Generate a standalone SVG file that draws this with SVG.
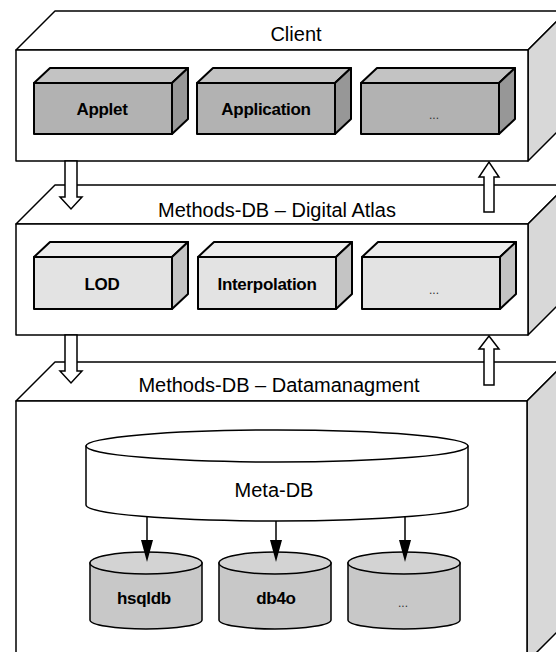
<svg xmlns="http://www.w3.org/2000/svg" width="556" height="652" viewBox="0 0 556 652">
<style>
.o{fill:#fff;stroke:#000;stroke-width:1.5;stroke-linejoin:round}
.os{fill:#d8d8d8;stroke:#000;stroke-width:1.5;stroke-linejoin:round}
.b{stroke:#000;stroke-width:2;stroke-linejoin:round}
.cf{fill:#b2b2b2}.ct{fill:#c3c3c3}.cs{fill:#979797}
.af{fill:#e3e3e3}.at{fill:#ececec}.as{fill:#c4c4c4}
.db{fill:#c8c8c8;stroke:#000;stroke-width:1.5}
.dbt{fill:#d3d3d3;stroke:#000;stroke-width:1.5}
.ar{fill:#fff;stroke:#000;stroke-width:1.5;stroke-linejoin:miter}
.ln{stroke:#000;stroke-width:1.5;fill:none}
.hd{fill:#000}
.t{font-family:"Liberation Sans",Arial,sans-serif;font-size:20px;text-anchor:middle;fill:#000}
.tb{font-family:"Liberation Sans",Arial,sans-serif;font-size:17px;font-weight:bold;text-anchor:middle;fill:#000;letter-spacing:-0.3px}
.td{font-family:"Liberation Sans",Arial,sans-serif;font-size:12px;text-anchor:middle;fill:#333}
</style>
<rect width="556" height="652" fill="#fff"/>

<g id="client">
  <polygon class="o" points="16,50 55,11 567,11 528,50"/>
  <polygon class="os" points="528,50 567,11 567,122 528,161"/>
  <rect class="o" x="16" y="50" width="512" height="111"/>
  <text class="t" x="296" y="41">Client</text>
</g>
<g id="applet">
  <polygon class="b ct" points="34,83 50,68 188,68 172,83"/>
  <polygon class="b cs" points="172,83 188,68 188,119 172,134"/>
  <rect class="b cf" x="34" y="83" width="138" height="51"/>
  <text class="tb" x="102" y="115">Applet</text>
</g>
<g id="application">
  <polygon class="b ct" points="197,83 213,68 351,68 335,83"/>
  <polygon class="b cs" points="335,83 351,68 351,119 335,134"/>
  <rect class="b cf" x="197" y="83" width="138" height="51"/>
  <text class="tb" x="266" y="115">Application</text>
</g>
<g id="client-more">
  <polygon class="b ct" points="361,83 377,68 515,68 499,83"/>
  <polygon class="b cs" points="499,83 515,68 515,119 499,134"/>
  <rect class="b cf" x="361" y="83" width="138" height="51"/>
  <text class="td" x="434" y="119">...</text>
</g>

<g id="atlas">
  <polygon class="o" points="16,224 55,185 567,185 528,224"/>
  <polygon class="os" points="528,224 567,185 567,296 528,335"/>
  <rect class="o" x="16" y="224" width="512" height="111"/>
  <text class="t" x="277" y="217">Methods-DB – Digital Atlas</text>
</g>
<g id="lod">
  <polygon class="b at" points="34,257 50,242 188,242 172,257"/>
  <polygon class="b as" points="172,257 188,242 188,294 172,309"/>
  <rect class="b af" x="34" y="257" width="138" height="52"/>
  <text class="tb" x="102" y="290">LOD</text>
</g>
<g id="interpolation">
  <polygon class="b at" points="198,257 214,242 352,242 336,257"/>
  <polygon class="b as" points="336,257 352,242 352,294 336,309"/>
  <rect class="b af" x="198" y="257" width="138" height="52"/>
  <text class="tb" x="267" y="290">Interpolation</text>
</g>
<g id="atlas-more">
  <polygon class="b at" points="362,257 378,242 516,242 500,257"/>
  <polygon class="b as" points="500,257 516,242 516,294 500,309"/>
  <rect class="b af" x="362" y="257" width="138" height="52"/>
  <text class="td" x="434" y="294">...</text>
</g>

<g id="datamanagment">
  <polygon class="o" points="16,401 55,362 566,362 527,401"/>
  <polygon class="os" points="527,401 566,362 566,623 527,662"/>
  <rect class="o" x="16" y="401" width="511" height="261"/>
  <text class="t" x="279" y="392">Methods-DB – Datamanagment</text>
</g>
<g id="meta-db">
  <path class="o" d="M86,446 V505 A191,16 0 0 0 468,505 V446 Z"/>
  <ellipse class="o" cx="277" cy="446" rx="191" ry="16"/>
  <text class="t" x="274" y="497">Meta-DB</text>
</g>
<g id="hsqldb">
  <path class="db" d="M90,563 V620 A56,9 0 0 0 202,620 V563 Z"/>
  <ellipse class="dbt" cx="146" cy="563" rx="56" ry="11"/>
  <text class="tb" x="144" y="604">hsqldb</text>
</g>
<g id="db4o">
  <path class="db" d="M219,563 V620 A56,9 0 0 0 331,620 V563 Z"/>
  <ellipse class="dbt" cx="275" cy="563" rx="56" ry="11"/>
  <text class="tb" x="276" y="604">db4o</text>
</g>
<g id="db-more">
  <path class="db" d="M348,563 V620 A56,9 0 0 0 460,620 V563 Z"/>
  <ellipse class="dbt" cx="404" cy="563" rx="56" ry="11"/>
  <text class="td" x="403" y="607">...</text>
</g>

<g id="connectors">
  <path class="ar" d="M65,161 V197 H60 L71,209 L82,197 H77 V161 Z"/>
  <path class="ar" d="M65,335 V371 H60 L71,383 L82,371 H77 V335 Z"/>
  <path class="ar" d="M484,212 V177 H479 L489,162 L499,177 H494 V212 Z"/>
  <path class="ar" d="M484,385 V349 H479 L489,336 L499,349 H494 V385 Z"/>
  <line class="ln" x1="147" y1="517" x2="147" y2="545"/>
  <polygon class="hd" points="141,540 153,540 147,562"/>
  <line class="ln" x1="276" y1="521" x2="276" y2="545"/>
  <polygon class="hd" points="270,540 282,540 276,562"/>
  <line class="ln" x1="405" y1="517" x2="405" y2="545"/>
  <polygon class="hd" points="399,540 411,540 405,562"/>
</g>
</svg>
